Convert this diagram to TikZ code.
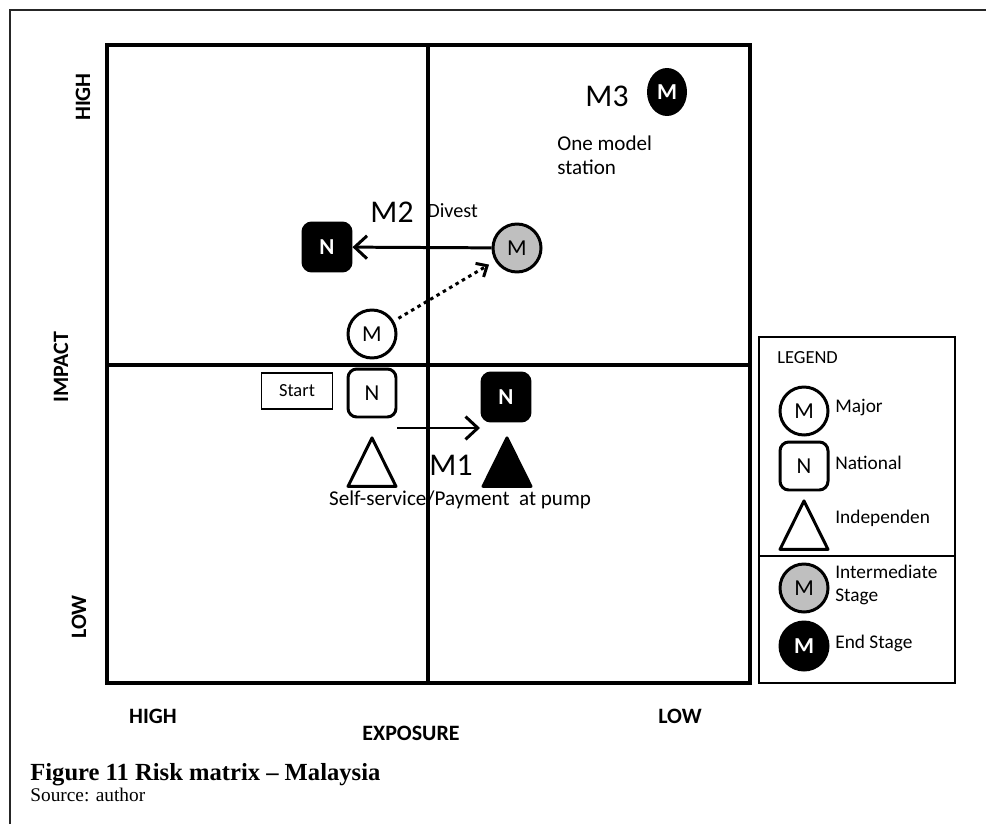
\documentclass[tikz,border=0pt]{standalone}
\usepackage{fontspec}
\setmainfont{Liberation Serif}
\newfontfamily\calib{Carlito}
\usepackage{tikz}
\usetikzlibrary{arrows.meta,shapes.geometric}
\newcommand{\fsz}[1]{\fontsize{#1}{#1}\selectfont}
\newcommand{\legentry}[5]{%
  \node[#3] (#1) at (804,#2) {#4};
  \node[legtext] (#1txt) at (835,{#2-3}) {#5};%
}

\begin{document}
\begin{tikzpicture}[x=0.02cm,y=-0.02cm,
  major/.style={circle,draw,line width=1.7pt,minimum size=0.96cm,inner sep=0pt,
    font=\calib\fsz{13}},
  midstage/.style={major,fill=black!25},
  endstage/.style={major,fill=black,text=white,font=\calib\bfseries\fsz{13}},
  national/.style={rectangle,rounded corners=5pt,draw,line width=1.7pt,
    minimum size=0.96cm,inner sep=0pt,font=\calib\fsz{13}},
  natend/.style={national,fill=black,text=white,font=\calib\bfseries\fsz{13}},
  indep/.style={isosceles triangle,shape border rotate=90,anchor=apex,
    isosceles triangle stretches,draw,line width=1.7pt,line join=round,
    minimum width=0.96cm,minimum height=0.97cm,inner sep=0pt},
  lbl/.style={inner sep=0pt,font=\calib\fsz{12},align=left},
  mlbl/.style={inner sep=0pt,font=\calib\fsz{18}},
  axis/.style={inner sep=0pt,font=\calib\bfseries\fsz{12.5}},
  legtext/.style={anchor=west,inner sep=0pt,align=left,
    font=\calib\fontsize{11}{13}\selectfont},
  flow/.style={-{Straight Barb[length=7pt,width=13pt]},line width=1.7pt},
  moveto/.style={-{Straight Barb[length=5pt,width=9pt]},line width=1.7pt,
    dash pattern=on 2pt off 2.2pt,shorten <=3pt,shorten >=4pt}]
  \useasboundingbox (0,0) rectangle (986,824);
  % page frame
  \draw[line width=0.8pt,black!85] (10,824) -- (10,10) -- (986,10);
  % the matrix
  \draw[line width=2pt] (107,45) rectangle (750,683);
  \draw[line width=2pt] (428,45) -- (428,683) (107,365) -- (750,365);
  % axes
  \node[axis,rotate=90] (imphigh) at (83,97) {HIGH};
  \node[axis,rotate=90] (impname) at (61,367) {IMPACT};
  \node[axis,rotate=90] (implow) at (79,617) {LOW};
  \node[axis] (exphigh) at (153,716) {HIGH};
  \node[axis] (expname) at (411,733) {EXPOSURE};
  \node[axis] (explow) at (680,716) {LOW};

  % M3
  \node[ellipse,fill=black,text=white,inner sep=0pt,minimum width=0.8cm,
    minimum height=0.96cm,font=\calib\bfseries\fsz{13}] (mthree) at (667,92) {M};
  \node[mlbl] (mthreelbl) at (607,96) {M3};
  \node[lbl,anchor=west,font=\calib\fontsize{12}{13.6}\selectfont] (onemodel)
    at (557,155) {One model\\station};

  % M2
  \node[natend] (ntwo) at (327,247) {N};
  \node[midstage] (mmid) at (517,248) {M};
  \node[major] (mstart) at (372,334) {M};
  \node[mlbl] (mtwolbl) at (392,212) {M2};
  \node[lbl,anchor=west,font=\calib\fsz{11.5}] (divest) at (427,211) {Divest};
  \draw[flow] (mmid) -- (ntwo);
  \draw[moveto] (mstart) -- (mmid);

  % M1
  \node[draw,line width=0.8pt,minimum width=1.42cm,minimum height=0.72cm,
    inner sep=0pt,font=\calib\fsz{10.5}] (start) at (297,391) {Start};
  \node[national] (nstart) at (372,393) {N};
  \node[natend] (none) at (506,397) {N};
  \node[indep] (tstart) at (372,434) {};
  \node[indep,fill=black] (tend) at (507,434) {};
  \coordinate (mfrom) at (397,428);
  \coordinate (mto) at (480,428);
  \draw[flow] (mfrom) -- (mto);
  \node[mlbl] (monelbl) at (451,465) {M1};
  \node[lbl] (selfserv) at (460,500) {Self-service/Payment\ \ at pump};
  \draw[line width=2pt] (428,420) -- (428,520);

  % legend
  \draw[line width=1.2pt] (759,337) rectangle (955,683);
  \draw[line width=1.2pt] (759,556) -- (955,556);
  \node[legtext,font=\calib\fsz{10.5}] (legtitle) at (777,358) {LEGEND};
  \legentry{legmajor}{411}{major}{M}{Major}
  \legentry{legnat}{466}{national}{N}{National}
  \node[indep] (legind) at (804,497) {};
  \node[legtext] (legindtxt) at (835,518) {Independen};
  \legentry{legmid}{588}{midstage}{M}{Intermediate\\Stage}
  \legentry{legendst}{646}{endstage}{M}{End Stage}

  % caption
  \node[anchor=base west,inner sep=0pt,font=\bfseries\fsz{14}] (caption)
    at (30,780) {Figure 11 Risk matrix -- Malaysia};
  \node[anchor=base west,inner sep=0pt,font=\fsz{11}] (source)
    at (30,801) {Source: author};
\end{tikzpicture}
\end{document}
